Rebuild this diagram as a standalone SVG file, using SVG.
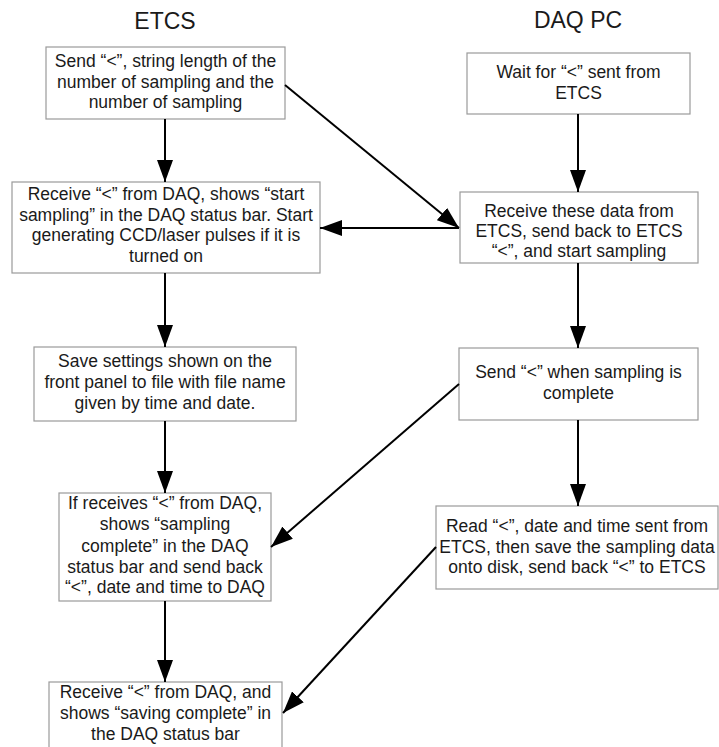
<svg xmlns="http://www.w3.org/2000/svg" width="719" height="747" viewBox="0 0 719 747">
  <style>
    .box { fill: #ffffff; stroke: #9a9a9a; stroke-width: 1.2; }
    .txt { font-family: "Liberation Sans", Arial, sans-serif; font-size: 17.5px; fill: #1a1a1a; text-anchor: middle; }
    .title { font-family: "Liberation Sans", Arial, sans-serif; font-size: 23px; fill: #1a1a1a; text-anchor: middle; }
    .conn { stroke: #000000; stroke-width: 2; fill: none; marker-end: url(#head); }
  </style>
  <defs>
    <marker id="head" markerUnits="userSpaceOnUse" markerWidth="22" markerHeight="16" refX="22" refY="8" orient="auto">
      <path d="M0,0 L22,8 L0,16 Z" fill="#000000"/>
    </marker>
  </defs>

  <rect width="719" height="747" fill="#ffffff"/>

  <text class="title" x="165" y="29">ETCS</text>
  <text class="title" x="578" y="28">DAQ PC</text>

  <!-- ETCS column -->
  <g id="etcs-send">
    <rect class="box" x="46" y="47" width="239" height="72"/>
    <text class="txt" x="165.5" y="67">Send “&lt;”, string length of the</text>
    <text class="txt" x="165.5" y="87.5">number of sampling and the</text>
    <text class="txt" x="165.5" y="108">number of sampling</text>
  </g>

  <g id="etcs-receive-start">
    <rect class="box" x="12" y="182" width="308" height="91"/>
    <text class="txt" x="166" y="200">Receive “&lt;” from DAQ, shows “start</text>
    <text class="txt" x="166" y="221">sampling” in the DAQ status bar. Start</text>
    <text class="txt" x="166" y="241">generating CCD/laser pulses if it is</text>
    <text class="txt" x="166" y="262">turned on</text>
  </g>

  <g id="etcs-save-settings">
    <rect class="box" x="34" y="347" width="262" height="74"/>
    <text class="txt" x="165" y="367">Save settings shown on the</text>
    <text class="txt" x="165" y="388">front panel to file with file name</text>
    <text class="txt" x="165" y="409">given by time and date.</text>
  </g>

  <g id="etcs-sampling-complete">
    <rect class="box" x="59" y="493" width="212" height="108"/>
    <text class="txt" x="165" y="509">If receives “&lt;” from DAQ,</text>
    <text class="txt" x="165" y="530">shows “sampling</text>
    <text class="txt" x="165" y="551.5">complete” in the DAQ</text>
    <text class="txt" x="165" y="572.5">status bar and send back</text>
    <text class="txt" x="165" y="593">“&lt;”, date and time to DAQ</text>
  </g>

  <g id="etcs-saving-complete">
    <rect class="box" x="49" y="682" width="233" height="80"/>
    <text class="txt" x="165.5" y="698">Receive “&lt;” from DAQ, and</text>
    <text class="txt" x="165.5" y="719">shows “saving complete” in</text>
    <text class="txt" x="165.5" y="740">the DAQ status bar</text>
  </g>

  <!-- DAQ PC column -->
  <g id="daq-wait">
    <rect class="box" x="467" y="53" width="223" height="61"/>
    <text class="txt" x="578.5" y="78">Wait for “&lt;” sent from</text>
    <text class="txt" x="578.5" y="99">ETCS</text>
  </g>

  <g id="daq-receive-data">
    <rect class="box" x="460" y="192" width="238" height="71"/>
    <text class="txt" x="579" y="217">Receive these data from</text>
    <text class="txt" x="579" y="237">ETCS, send back to ETCS</text>
    <text class="txt" x="579" y="257">“&lt;”, and start sampling</text>
  </g>

  <g id="daq-send-complete">
    <rect class="box" x="459" y="348" width="239" height="72"/>
    <text class="txt" x="578.5" y="378">Send “&lt;” when sampling is</text>
    <text class="txt" x="578.5" y="399">complete</text>
  </g>

  <g id="daq-save-data">
    <rect class="box" x="436" y="506" width="282" height="83"/>
    <text class="txt" x="577" y="532">Read “&lt;”, date and time sent from</text>
    <text class="txt" x="577" y="552.5">ETCS, then save the sampling data</text>
    <text class="txt" x="577" y="573">onto disk, send back “&lt;” to ETCS</text>
  </g>

  <!-- connectors -->
  <g id="connectors">
    <line class="conn" x1="165" y1="119" x2="165" y2="182"/>
    <line class="conn" x1="285" y1="85" x2="459" y2="228"/>
    <line class="conn" x1="459" y1="228" x2="320" y2="228"/>
    <line class="conn" x1="578" y1="114" x2="578" y2="192"/>
    <line class="conn" x1="165" y1="273" x2="165" y2="347"/>
    <line class="conn" x1="578" y1="263" x2="578" y2="348"/>
    <line class="conn" x1="165" y1="421" x2="165" y2="493"/>
    <line class="conn" x1="459" y1="384" x2="271" y2="547"/>
    <line class="conn" x1="578" y1="420" x2="578" y2="506"/>
    <line class="conn" x1="165" y1="601" x2="165" y2="682"/>
    <line class="conn" x1="436" y1="547" x2="283" y2="713"/>
  </g>
</svg>
